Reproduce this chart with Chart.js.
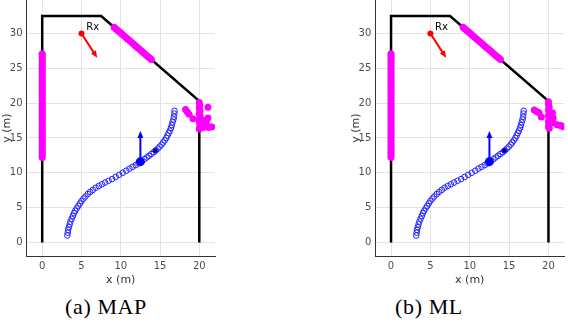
<!DOCTYPE html>
<html>
<head>
<meta charset="utf-8">
<script src="https://cdn.jsdelivr.net/npm/chart.js@4"></script>
<style>
  body { margin: 0; background: #fff; width: 568px; height: 332px; position: relative; overflow: hidden; }
  canvas { position: absolute; top: 0; }
  #map-chart { left: 0; }
  #ml-chart { left: 284px; }
  .caption { position: absolute; top: 294px; font-family: 'Liberation Serif', 'Times New Roman', serif; font-size: 22px; letter-spacing: 0.6px; color: #000; transform: translateX(-50%); white-space: nowrap; }
</style>
</head>
<body>
<canvas id="map-chart" width="284" height="290"></canvas>
<canvas id="ml-chart" width="284" height="290"></canvas>
<div class="caption" style="left:106px">(a) MAP</div>
<div class="caption" style="left:429px">(b) ML</div>
<script>
// Paredes da sala (linha preta)
const wallX = [0, 0, 7.5, 20, 20];
const wallY = [0, 32.5, 32.5, 20.3, 0];

// Pontos magenta na parede esquerda
const leftWallY = [12.2, 12.5, 12.8, 13.1, 13.4, 13.7, 14.0, 14.3, 14.6, 14.9, 15.2, 15.5, 15.8, 16.1, 16.4, 16.7, 17.0, 17.3, 17.6, 17.9, 18.2, 18.5, 18.8, 19.1, 19.4, 19.7, 20.0, 20.3, 20.6, 20.9, 21.2, 21.5, 21.8, 22.1, 22.4, 22.7, 23.0, 23.3, 23.6, 23.9, 24.2, 24.5, 24.8, 25.1, 25.4, 25.7, 26.0, 26.3, 26.6, 26.9, 27.1];

// Pontos magenta na parede diagonal
const diagX = [9.15, 9.4, 9.65, 9.9, 10.15, 10.4, 10.65, 10.9, 11.15, 11.4, 11.65, 11.9, 12.15, 12.4, 12.65, 12.9, 13.15, 13.4, 13.65, 13.9];
const diagY = [30.89, 30.64, 30.4, 30.16, 29.91, 29.67, 29.42, 29.18, 28.94, 28.69, 28.45, 28.2, 27.96, 27.72, 27.47, 27.23, 26.99, 26.74, 26.5, 26.25];

// Nuvem magenta no canto direito (MAP e ML)
const mapClusterX = [18.25, 18.5, 18.7, 19.2, 20.0, 20.05, 20.0, 20.1, 20.0, 20.1, 20.05, 20.0, 20.1, 20.05, 20.0, 21.1, 21.1, 20.6, 20.9, 20.5, 21.2, 21.6];
const mapClusterY = [19.1, 18.7, 18.4, 17.75, 20.1, 19.7, 19.3, 18.9, 18.5, 18.1, 17.7, 17.3, 16.9, 16.5, 16.3, 19.4, 17.85, 17.5, 17.2, 16.5, 16.5, 16.6];
const mlClusterX = [18.2, 18.5, 18.8, 19.1, 20.0, 20.0, 20.1, 20.0, 20.1, 20.0, 20.1, 20.0, 20.05, 20.0, 20.1, 20.5, 20.6, 20.6, 21.1, 21.5, 21.7, 21.9];
const mlClusterY = [19.0, 18.8, 18.6, 18.0, 20.2, 19.8, 19.4, 19.0, 18.6, 18.2, 17.8, 17.4, 17.0, 16.6, 16.4, 18.6, 17.9, 17.2, 16.9, 16.8, 16.7, 16.6];

// Trajetória (círculos azuis abertos)
const trackX = [3.2, 3.25, 3.3, 3.4, 3.5, 3.6, 3.75, 3.9, 4.05, 4.2, 4.4, 4.6, 4.8, 5.0, 5.25, 5.5, 5.8, 6.1, 6.45, 6.8, 7.2, 7.6, 8.0, 8.45, 8.9, 9.35, 9.8, 10.25, 10.7, 11.1, 11.5, 11.9, 12.25, 12.6, 13.0, 13.3, 13.6, 13.9, 14.2, 14.45, 14.7, 14.95, 15.2, 15.4, 15.6, 15.8, 15.95, 16.1, 16.25, 16.4, 16.5, 16.6, 16.7, 16.78, 16.82, 16.85];
const trackY = [1.0, 1.4, 1.8, 2.2, 2.6, 3.0, 3.4, 3.8, 4.2, 4.55, 4.9, 5.25, 5.6, 5.95, 6.3, 6.6, 6.95, 7.25, 7.55, 7.85, 8.1, 8.35, 8.6, 8.85, 9.1, 9.4, 9.7, 10.0, 10.3, 10.6, 10.85, 11.1, 11.35, 11.6, 11.95, 12.2, 12.45, 12.7, 12.95, 13.2, 13.45, 13.75, 14.05, 14.35, 14.65, 15.0, 15.35, 15.7, 16.05, 16.45, 16.85, 17.25, 17.65, 18.05, 18.5, 18.9];

// Posição atual, ponto pequeno e receptor
const currentPos = [12.5, 11.6];
const smallPos = [14.4, 13.2];
const rxPos = [5, 30];

// Setas: [x0, y0, x1, y1, cor]
const arrows = [
  [12.5, 11.6, 12.5, 16.0, '#0000ff'],
  [5, 30, 7, 26.5, '#ff0000'],
];

// Ticks dos eixos
const xTicks = [0, 5, 10, 15, 20];
const yTicks = [0, 5, 10, 15, 20, 25, 30];

function toPoints(xs, ys) {
  return xs.map((x, i) => ({ x: x, y: ys[i] }));
}

// Plugin que desenha as setas e o texto "Rx"
const arrowPlugin = {
  id: 'arrows',
  afterDatasetsDraw(chart) {
    const ctx = chart.ctx;
    const sx = chart.scales.x;
    const sy = chart.scales.y;
    ctx.save();
    for (const a of arrows) {
      const x0 = sx.getPixelForValue(a[0]);
      const y0 = sy.getPixelForValue(a[1]);
      const x1 = sx.getPixelForValue(a[2]);
      const y1 = sy.getPixelForValue(a[3]);
      const ang = Math.atan2(y1 - y0, x1 - x0);
      const head = 7;
      ctx.strokeStyle = a[4];
      ctx.fillStyle = a[4];
      ctx.lineWidth = 2;
      ctx.beginPath();
      ctx.moveTo(x0, y0);
      ctx.lineTo(x1 - Math.cos(ang) * head * 0.8, y1 - Math.sin(ang) * head * 0.8);
      ctx.stroke();
      ctx.beginPath();
      ctx.moveTo(x1, y1);
      ctx.lineTo(x1 - head * Math.cos(ang) + 3 * Math.sin(ang), y1 - head * Math.sin(ang) - 3 * Math.cos(ang));
      ctx.lineTo(x1 - head * Math.cos(ang) - 3 * Math.sin(ang), y1 - head * Math.sin(ang) + 3 * Math.cos(ang));
      ctx.closePath();
      ctx.fill();
    }
    ctx.fillStyle = '#000';
    ctx.font = '10px "DejaVu Sans", sans-serif';
    ctx.textAlign = 'left';
    ctx.textBaseline = 'middle';
    ctx.fillText('Rx', sx.getPixelForValue(5.6), sy.getPixelForValue(30.9));
    ctx.restore();
  },
};

function makeChart(canvasId, clusterX, clusterY, padLeft, padRight) {
  return new Chart(document.getElementById(canvasId), {
    type: 'scatter',
    data: {
      datasets: [
        {
          // posição atual (ponto azul grande)
          data: [{ x: currentPos[0], y: currentPos[1] }],
          pointRadius: 4.5,
          backgroundColor: '#0000ff',
          borderWidth: 0,
          order: 0,
        },
        {
          data: [{ x: smallPos[0], y: smallPos[1] }],
          pointRadius: 2.5,
          backgroundColor: '#0000b0',
          borderWidth: 0,
          order: 1,
        },
        {
          data: [{ x: rxPos[0], y: rxPos[1] }],
          pointRadius: 3,
          backgroundColor: '#ff0000',
          borderWidth: 0,
          order: 2,
        },
        {
          // trajetória
          data: toPoints(trackX, trackY),
          pointRadius: 2.8,
          borderColor: '#2020ff',
          backgroundColor: 'rgba(255,255,255,0)',
          borderWidth: 1,
          order: 3,
        },
        {
          data: toPoints(leftWallY.map(() => 0), leftWallY)
            .concat(toPoints(diagX, diagY))
            .concat(toPoints(clusterX, clusterY)),
          pointRadius: 3.5,
          backgroundColor: '#ff00ff',
          borderWidth: 0,
          order: 4,
        },
        {
          // paredes
          data: toPoints(wallX, wallY),
          showLine: true,
          borderColor: '#000',
          borderWidth: 2.5,
          pointRadius: 0,
          order: 5,
        },
      ],
    },
    options: {
      responsive: false,
      animation: false,
      layout: { autoPadding: false, padding: { left: padLeft, right: padRight, top: 0, bottom: 0 } },
      plugins: { legend: { display: false }, tooltip: { enabled: false } },
      scales: {
        x: {
          type: 'linear',
          min: -2,
          max: 22,
          afterBuildTicks: (scale) => { scale.ticks = xTicks.map((v) => ({ value: v })); },
          afterFit: (scale) => { scale.height = 33.6; scale.paddingLeft = 0; scale.paddingRight = 0; },
          ticks: { color: '#4d4d4d', font: { family: 'DejaVu Sans', size: 10 }, padding: 4, maxRotation: 0 },
          grid: { color: '#e3e3e3', drawTicks: false },
          border: { color: '#333', width: 1 },
          title: { display: true, text: 'x (m)', color: '#333', font: { family: 'DejaVu Sans', size: 11 }, padding: { top: 0, bottom: 3 } },
        },
        y: {
          type: 'linear',
          min: -2,
          max: 34.8,
          afterBuildTicks: (scale) => { scale.ticks = yTicks.map((v) => ({ value: v })); },
          afterFit: (scale) => { scale.width = 26.5; scale.paddingTop = 0; scale.paddingBottom = 0; },
          ticks: { color: '#4d4d4d', font: { family: 'DejaVu Sans', size: 10 }, padding: 4 },
          grid: { color: '#e3e3e3', drawTicks: false },
          border: { color: '#333', width: 1 },
          title: { display: true, text: 'y (m)', color: '#333', font: { family: 'DejaVu Sans', size: 11 }, padding: { top: 1, bottom: 0 } },
        },
      },
    },
    plugins: [arrowPlugin],
  });
}

makeChart('map-chart', mapClusterX, mapClusterY, 0, 69);
makeChart('ml-chart', mlClusterX, mlClusterY, 64.8, 3.8);
</script>
</body>
</html>
